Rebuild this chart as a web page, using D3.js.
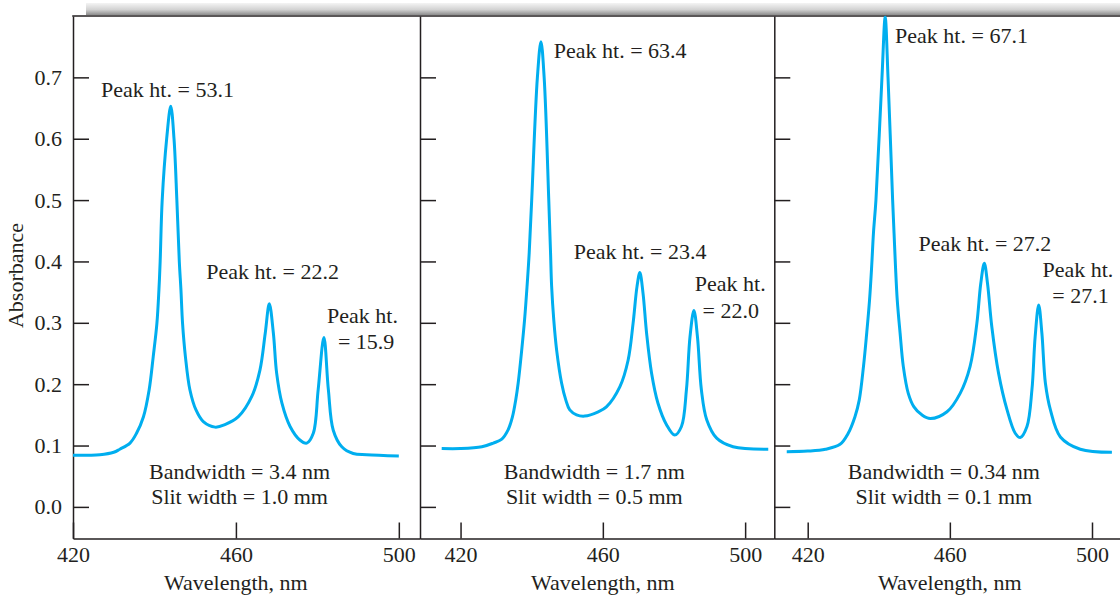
<!DOCTYPE html>
<html>
<head>
<meta charset="utf-8">
<script src="https://cdn.jsdelivr.net/npm/d3@7"></script>
<title>Absorbance spectra at three slit widths</title>
<style>
	body { margin: 0; background: #fff; }
	svg text { font-family: "Liberation Serif", "Times New Roman", serif; font-size: 22px; fill: #231f20; }
	.axis path, .axis line { stroke: #231f20; stroke-width: 1.5px; }
	.frame { stroke: #231f20; stroke-width: 1.5px; }
	.spectrum { fill: none; stroke: #00aeef; stroke-width: 3px; stroke-linejoin: round; }
</style>
</head>
<body>
<svg id="chart" width="1120" height="596"></svg>
<script>
	// tick values
	var yTicks = [0, 0.1, 0.2, 0.3, 0.4, 0.5, 0.6, 0.7];
	var xTicks = [420, 460, 500];

	// panel 1 : slit 1.0 mm
	var wavelength1 = [420, 426.6, 430, 431.5, 434.0, 435.6, 437.3, 438.7, 439.7, 440.6, 441.1, 441.4, 441.9, 443.0, 444.0, 444.8, 445.5, 446.1, 446.5, 446.9, 447.6, 448.7, 450.2, 452.0, 454.9, 457.3, 460.6, 463.9, 465.9, 467.2, 468.2, 469.2, 470.0, 471.3, 473.3, 475.7, 477.4, 479.0, 480.2, 481.6, 482.7, 483.9, 486.0, 488.8, 492.1, 500];
	var absorbance1 = [0.084, 0.085, 0.089, 0.094, 0.104, 0.120, 0.147, 0.191, 0.245, 0.299, 0.354, 0.400, 0.500, 0.600, 0.653, 0.600, 0.500, 0.400, 0.354, 0.299, 0.245, 0.191, 0.158, 0.139, 0.130, 0.134, 0.147, 0.180, 0.223, 0.283, 0.331, 0.283, 0.218, 0.169, 0.131, 0.109, 0.104, 0.120, 0.191, 0.276, 0.191, 0.125, 0.098, 0.087, 0.085, 0.083];

	// panel 2 : slit 0.5 mm
	var wavelength2 = [414.7, 420, 426, 429.2, 431.5, 433.4, 434.6, 435.5, 436.2, 437.2, 438.0, 438.7, 439.3, 440.0, 441.6, 442.6, 443.5, 444.8, 445.3, 445.6, 446.2, 447.0, 448.4, 449.6, 450.7, 452.6, 454.9, 458.7, 461.0, 464.8, 467.1, 468.5, 469.6, 470.4, 471.3, 472.3, 473.7, 475.5, 477.9, 480.2, 482.1, 483.5, 484.5, 485.6, 486.6, 487.7, 489.2, 492.0, 496.6, 506.5];
	var absorbance2 = [0.095, 0.095, 0.098, 0.104, 0.110, 0.126, 0.147, 0.174, 0.202, 0.256, 0.305, 0.360, 0.414, 0.500, 0.700, 0.758, 0.700, 0.500, 0.414, 0.360, 0.305, 0.256, 0.202, 0.174, 0.158, 0.150, 0.148, 0.155, 0.163, 0.196, 0.239, 0.299, 0.359, 0.382, 0.348, 0.283, 0.218, 0.169, 0.134, 0.117, 0.131, 0.191, 0.277, 0.320, 0.277, 0.191, 0.142, 0.112, 0.098, 0.094];

	// panel 3 : slit 0.1 mm
	var wavelength3 = [414.1, 420, 425, 429.1, 431.4, 433.3, 434.5, 435.7, 436.6, 437.4, 438.0, 438.5, 439.2, 440.9, 441.8, 442.6, 443.9, 444.3, 444.7, 445.2, 446.0, 446.9, 448.3, 449.9, 452.1, 454.5, 459.2, 462.9, 465.7, 467.6, 468.7, 469.7, 470.6, 471.8, 473.7, 476.1, 478.4, 479.8, 481.7, 483.1, 484.0, 485.0, 485.9, 486.9, 488.3, 491.1, 496.7, 505.6];
	var absorbance3 = [0.090, 0.091, 0.094, 0.102, 0.120, 0.147, 0.174, 0.229, 0.283, 0.337, 0.392, 0.446, 0.500, 0.700, 0.798, 0.700, 0.500, 0.446, 0.392, 0.337, 0.283, 0.229, 0.185, 0.163, 0.150, 0.144, 0.155, 0.185, 0.229, 0.299, 0.364, 0.397, 0.364, 0.294, 0.218, 0.158, 0.120, 0.113, 0.131, 0.191, 0.277, 0.329, 0.283, 0.201, 0.158, 0.114, 0.094, 0.089];

	// annotation texts
	var peakTopLabels = ["Peak ht. = 53.1", "Peak ht. = 63.4", "Peak ht. = 67.1"];
	var peakMidLabels = ["Peak ht. = 22.2", "Peak ht. = 23.4", "Peak ht. = 27.2"];
	var peakLowValues = ["= 15.9", "= 22.0", "= 27.1"];
	var bandwidthLabels = ["Bandwidth = 3.4 nm", "Bandwidth = 1.7 nm", "Bandwidth = 0.34 nm"];
	var slitLabels = ["Slit width = 1.0 mm", "Slit width = 0.5 mm", "Slit width = 0.1 mm"];

	var spectra = [
		d3.zip(wavelength1, absorbance1),
		d3.zip(wavelength2, absorbance2),
		d3.zip(wavelength3, absorbance3)
	];

	// layout of each panel (pixels) and where its notes sit (nm, absorbance)
	var panels = [
		{left: 73, right: 420, domain: [420, 505.2],
			top: [426.9, 0.668], mid: [452.7, 0.371], low: [499.8, 0.299], lowVal: [498.9, 0.257], foot: 460.9},
		{left: 420, right: 774.3, domain: [408.6, 508.2],
			top: [446.2, 0.731], mid: [451.8, 0.404], low: [505.8, 0.352], lowVal: [503.9, 0.308], foot: 457.6},
		{left: 774.3, right: 1128.6, domain: [410.6, 510.3],
			top: [444.6, 0.7565], mid: [451.2, 0.4175], low: [506.0, 0.375], lowVal: [504.7, 0.332], foot: 458.3}
	];

	var svg = d3.select("#chart");

	var y = d3.scaleLinear()
			.domain([-0.0515, 0.8])
			.range([538.5, 16]);

	// grey strip above the frame
	var grad = svg.append("defs").append("linearGradient")
			.attr("id", "strip")
			.attr("x1", 0).attr("y1", 0).attr("x2", 0).attr("y2", 1);
	grad.append("stop").attr("offset", "0%").attr("stop-color", "#f4f4f4");
	grad.append("stop").attr("offset", "55%").attr("stop-color", "#d2d2d2");
	grad.append("stop").attr("offset", "100%").attr("stop-color", "#8c8c8c");

	svg.append("rect")
		.attr("x", 86)
		.attr("y", 3)
		.attr("width", 1034)
		.attr("height", 12)
		.attr("fill", "url(#strip)");

	svg.append("line")
		.attr("class", "frame")
		.attr("x1", 72.25).attr("x2", 1120)
		.attr("y1", 16).attr("y2", 16);

	panels.forEach(function(p, i) {
		var x = d3.scaleLinear()
				.domain(p.domain)
				.range([p.left, p.right]);

		var line = d3.line()
				.x(function(d) { return x(d[0]); })
				.y(function(d) { return y(d[1]); })
				.curve(d3.curveCatmullRom.alpha(0.5));

		svg.append("g")
			.attr("class", "axis")
			.attr("transform", "translate(0," + y.range()[0] + ")")
			.call(d3.axisBottom(x)
				.tickValues(xTicks)
				.tickSize(-16)
				.tickSizeOuter(0)
				.tickPadding(8));

		svg.append("g")
			.attr("class", "axis")
			.attr("transform", "translate(" + p.left + ",0)")
			.call(d3.axisLeft(y)
				.tickValues(yTicks)
				.tickSize(-16)
				.tickSizeOuter(0)
				.tickPadding(11)
				.tickFormat(i === 0 ? d3.format(".1f") : function() { return ""; }));

		svg.append("path")
			.datum(spectra[i])
			.attr("class", "spectrum")
			.attr("d", line);

		var g = svg.append("g");

		g.append("text")
			.attr("x", x(p.top[0])).attr("y", y(p.top[1]))
			.text(peakTopLabels[i]);

		g.append("text")
			.attr("x", x(p.mid[0])).attr("y", y(p.mid[1]))
			.text(peakMidLabels[i]);

		g.append("text")
			.attr("x", x(p.low[0])).attr("y", y(p.low[1]))
			.attr("text-anchor", "end")
			.text("Peak ht.");

		g.append("text")
			.attr("x", x(p.lowVal[0])).attr("y", y(p.lowVal[1]))
			.attr("text-anchor", "end")
			.text(peakLowValues[i]);

		g.append("text")
			.attr("x", x(p.foot)).attr("y", y(0.046))
			.attr("text-anchor", "middle")
			.text(bandwidthLabels[i]);

		g.append("text")
			.attr("x", x(p.foot)).attr("y", y(0.004))
			.attr("text-anchor", "middle")
			.text(slitLabels[i]);

		svg.append("text")
			.attr("x", x(460))
			.attr("y", 590)
			.attr("text-anchor", "middle")
			.text("Wavelength, nm");
	});

	svg.append("text")
		.attr("transform", "translate(23,275.5) rotate(-90)")
		.attr("text-anchor", "middle")
		.text("Absorbance");
</script>
</body>
</html>
